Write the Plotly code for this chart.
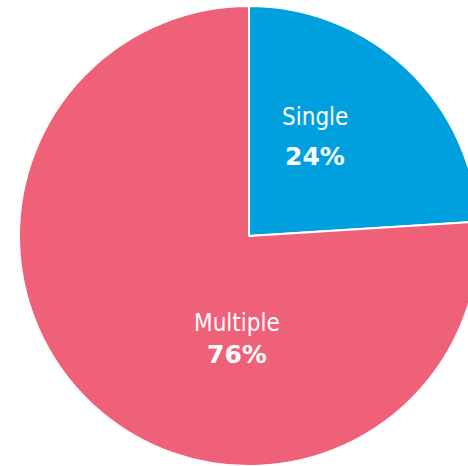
import plotly.graph_objects as go

labels = ["Single", "Multiple"]
values = [24, 76]
colors = ["#00A0DF", "#EF6079"]

W, H = 480, 466
FONT = "DejaVu Sans Condensed, DejaVu Sans, sans-serif"
FONT_B = "DejaVu Sans, sans-serif"

fig = go.Figure(go.Pie(
    labels=labels, values=values, sort=False, direction="clockwise", rotation=0,
    marker=dict(colors=colors, line=dict(color="white", width=2)),
    textinfo="none", showlegend=False, hoverinfo="label+percent",
    domain=dict(x=[19 / W, 479 / W], y=[0, 460 / H]),
))

# label anchor points (pixels in the figure) for each slice: (name center, percent center)
label_pos = {"Single": ((315, 117), (315, 156)), "Multiple": ((237, 323), (237, 354))}
total = sum(values)
for lab, val in zip(labels, values):
    (nx, ny), (px, py) = label_pos[lab]
    fig.add_annotation(x=nx / W, y=1 - ny / H, xref="paper", yref="paper",
                       text=lab, showarrow=False, xanchor="center", yanchor="middle",
                       font=dict(family=FONT, size=24, color="white"))
    fig.add_annotation(x=px / W, y=1 - py / H, xref="paper", yref="paper",
                       text=f"<b>{round(100 * val / total)}%</b>", showarrow=False,
                       xanchor="center", yanchor="middle",
                       font=dict(family=FONT_B, size=25, color="white"))

fig.update_layout(width=W, height=H, margin=dict(l=0, r=0, t=0, b=0),
                  paper_bgcolor="white", plot_bgcolor="white")
fig.write_html("out.html", config={"displayModeBar": False},
               post_script="document.body.style.margin='0';document.body.style.overflow='hidden';")
